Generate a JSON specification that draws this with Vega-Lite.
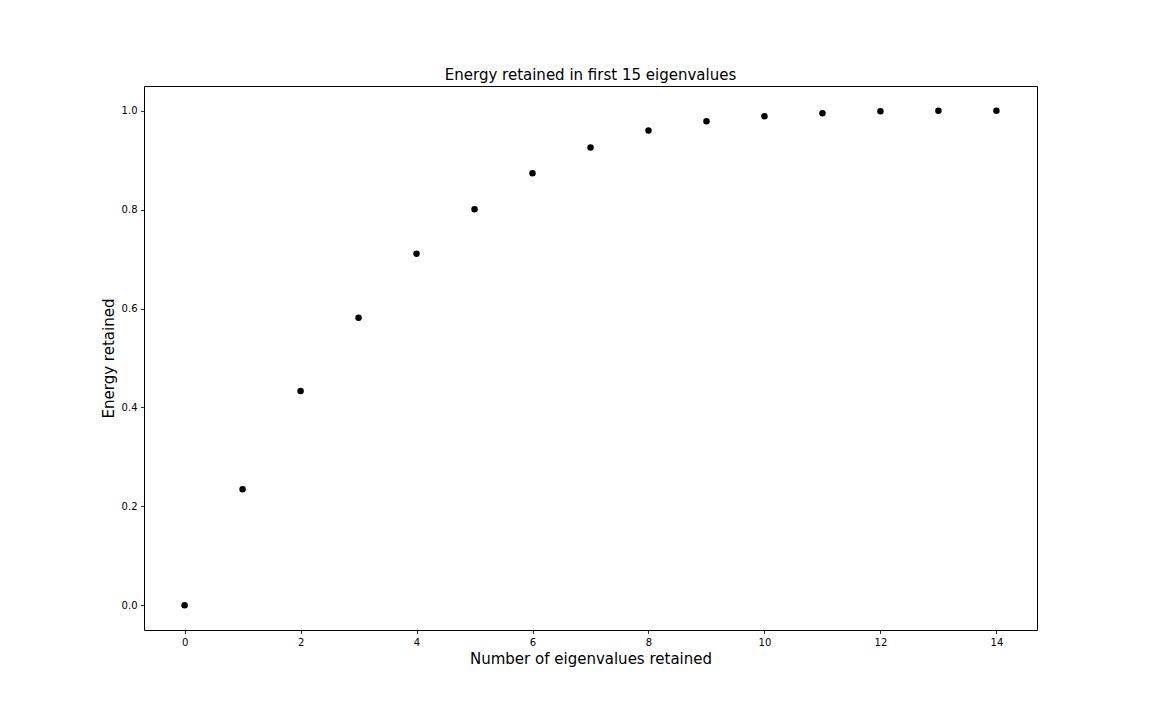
{
  "$schema": "https://vega.github.io/schema/vega-lite/v6.json",
  "width": 893,
  "height": 544,
  "autosize": {"type": "none"},
  "padding": {"left": 144, "top": 86, "right": 115, "bottom": 90},
  "background": "white",
  "config": {
    "font": "DejaVu Sans",
    "view": {"stroke": "black", "strokeWidth": 1},
    "axis": {
      "grid": false,
      "domain": false,
      "tickColor": "black",
      "tickSize": 3.5,
      "tickWidth": 0.8,
      "labelColor": "black",
      "labelFont": "DejaVu Sans",
      "labelFontSize": 10,
      "labelPadding": 3.5,
      "titleFont": "DejaVu Sans",
      "titleFontSize": 15,
      "titleFontWeight": "normal",
      "titleColor": "black"
    }
  },
  "title": {
    "text": "Energy retained in first 15 eigenvalues",
    "font": "DejaVu Sans",
    "fontSize": 15,
    "fontWeight": "normal",
    "color": "black",
    "anchor": "middle",
    "offset": 3
  },
  "data": {
    "values": [
      {"k": 0, "energy": 0.0},
      {"k": 1, "energy": 0.2345},
      {"k": 2, "energy": 0.4332},
      {"k": 3, "energy": 0.5812},
      {"k": 4, "energy": 0.711},
      {"k": 5, "energy": 0.8007},
      {"k": 6, "energy": 0.8737},
      {"k": 7, "energy": 0.9258},
      {"k": 8, "energy": 0.960},
      {"k": 9, "energy": 0.9785},
      {"k": 10, "energy": 0.989},
      {"k": 11, "energy": 0.9947},
      {"k": 12, "energy": 0.9988},
      {"k": 13, "energy": 0.9998},
      {"k": 14, "energy": 1.0}
    ]
  },
  "mark": {"type": "point", "filled": true, "color": "black", "opacity": 1, "size": 42},
  "encoding": {
    "x": {
      "field": "k",
      "type": "quantitative",
      "scale": {"domain": [-0.7, 14.7], "nice": false, "zero": false},
      "axis": {"values": [0, 2, 4, 6, 8, 10, 12, 14], "title": "Number of eigenvalues retained", "titlePadding": 4}
    },
    "y": {
      "field": "energy",
      "type": "quantitative",
      "scale": {"domain": [-0.05, 1.05], "nice": false, "zero": false},
      "axis": {"values": [0, 0.2, 0.4, 0.6, 0.8, 1.0], "format": ".1f", "title": "Energy retained", "titlePadding": 5}
    }
  }
}
